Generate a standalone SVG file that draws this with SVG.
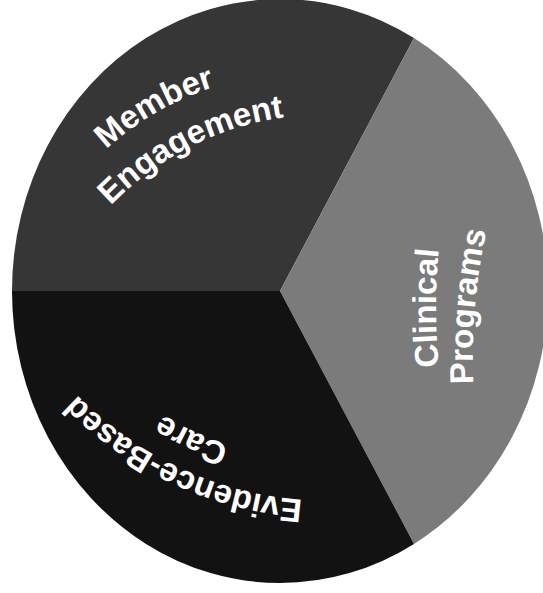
<svg xmlns="http://www.w3.org/2000/svg" width="543" height="593" viewBox="0 0 543 593">
<style>
  .lbl { font-family: "Liberation Sans", Arial, sans-serif; font-size: 33px; font-weight: bold; fill: #ffffff; }
</style>
<defs>
  <path id="pMember" d="M 33.9 258.7 A 280 280 0 0 1 345.6 78.8"/>
  <path id="pEngage" d="M 61.3 273.5 A 300 300 0 0 1 368 117.2"/>
  <path id="pClin" d="M 449.1 432.7 A 600 600 0 0 1 449.1 183.3"/>
  <path id="pProg" d="M 477.2 432.4 A 600 600 0 0 1 498.9 183.9"/>
  <path id="pEvid" d="M 358.4 499.5 A 350 350 0 0 1 41.2 351.6"/>
  <path id="pCare" d="M 352.9 459.6 A 310 310 0 0 1 71.9 328.6"/>
</defs>
<rect width="543" height="593" fill="#ffffff"/>
<g id="member-engagement">
  <path d="M280 291 L12 291 A268 292 0 0 1 414 38.1 Z" fill="#363636"/>
  <text class="lbl"><textPath href="#pMember" startOffset="50%" text-anchor="middle">Member</textPath></text>
  <text class="lbl"><textPath href="#pEngage" startOffset="50%" text-anchor="middle">Engagement</textPath></text>
</g>
<g id="clinical-programs">
  <path d="M280 291 L414 38.1 A268 292 0 0 1 414 543.9 Z" fill="#7b7b7b"/>
  <text class="lbl"><textPath href="#pClin" startOffset="50%" text-anchor="middle">Clinical</textPath></text>
  <text class="lbl"><textPath href="#pProg" startOffset="50%" text-anchor="middle">Programs</textPath></text>
</g>
<g id="evidence-based-care">
  <path d="M280 291 L414 543.9 A268 292 0 0 1 12 291 Z" fill="#121212"/>
  <text class="lbl"><textPath href="#pEvid" startOffset="50%" text-anchor="middle">Evidence-Based</textPath></text>
  <text class="lbl"><textPath href="#pCare" startOffset="50%" text-anchor="middle">Care</textPath></text>
</g>
<g id="connectors"/>
</svg>
